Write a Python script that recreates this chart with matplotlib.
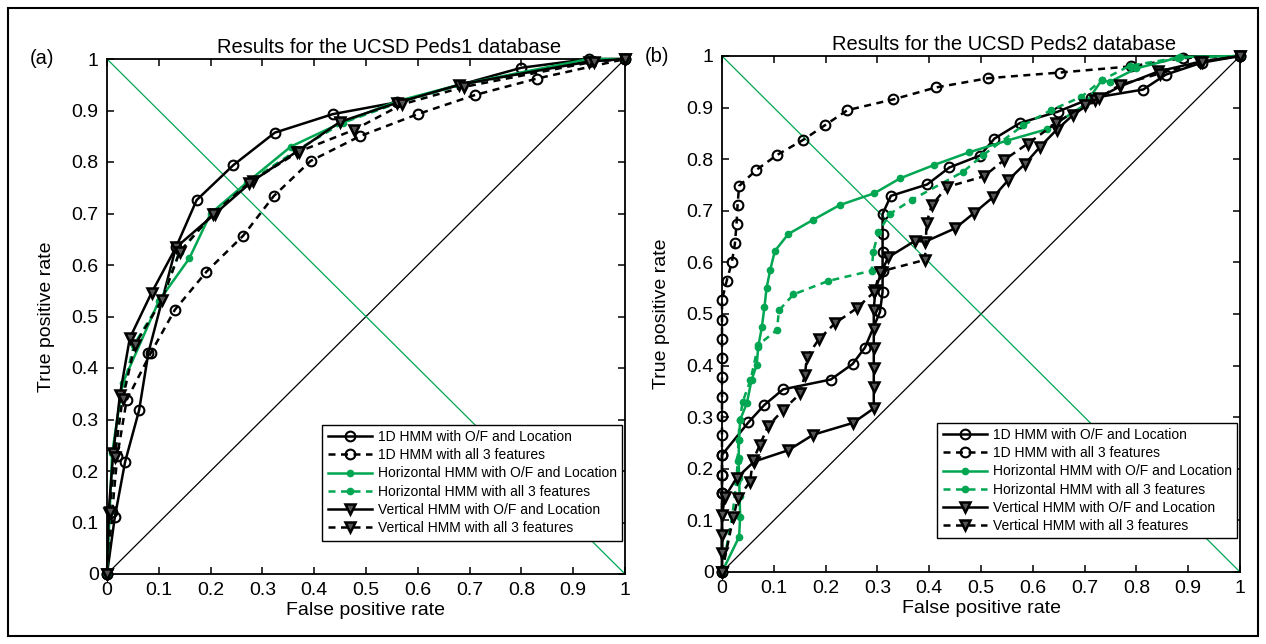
import matplotlib
matplotlib.use("Agg")
import matplotlib.pyplot as plt
from matplotlib.patches import Rectangle

plt.rcParams['font.family'] = ['Liberation Sans', 'DejaVu Sans']

# ---------------- data: panel (a) Peds1 ----------------
a_1d_of_x = [0, 0.015, 0.035, 0.062, 0.080, 0.133, 0.173, 0.244, 0.324, 0.436, 0.560, 0.800, 0.930, 1.0]
a_1d_of_y = [0, 0.110, 0.218, 0.318, 0.430, 0.634, 0.726, 0.794, 0.857, 0.893, 0.916, 0.983, 1.000, 1.0]

a_1d_all_x = [0, 0.010, 0.020, 0.038, 0.085, 0.131, 0.192, 0.263, 0.322, 0.393, 0.488, 0.600, 0.710, 0.830, 1.0]
a_1d_all_y = [0, 0.120, 0.230, 0.338, 0.430, 0.513, 0.587, 0.657, 0.734, 0.802, 0.850, 0.893, 0.930, 0.962, 1.0]

a_h_of_x = [0, 0.010, 0.030, 0.100, 0.159, 0.200, 0.270, 0.355, 0.450, 0.560, 0.680, 0.930, 1.0]
a_h_of_y = [0, 0.235, 0.370, 0.530, 0.613, 0.700, 0.760, 0.830, 0.875, 0.918, 0.950, 1.000, 1.0]

a_h_all_x = [0, 0.005, 0.015, 0.028, 0.052, 0.105, 0.140, 0.205, 0.275, 0.365, 0.455, 0.565, 0.685, 0.935, 1.0]
a_h_all_y = [0, 0.120, 0.232, 0.345, 0.445, 0.532, 0.625, 0.700, 0.762, 0.822, 0.876, 0.916, 0.950, 0.996, 1.0]

a_v_of_x = [0, 0.003, 0.012, 0.025, 0.044, 0.086, 0.133, 0.208, 0.281, 0.366, 0.450, 0.560, 0.680, 0.930, 1.0]
a_v_of_y = [0, 0.118, 0.234, 0.348, 0.458, 0.546, 0.634, 0.699, 0.763, 0.820, 0.878, 0.915, 0.950, 0.995, 1.0]

a_v_all_x = [0, 0.005, 0.015, 0.030, 0.054, 0.106, 0.140, 0.205, 0.275, 0.370, 0.476, 0.570, 0.690, 0.940, 1.0]
a_v_all_y = [0, 0.120, 0.228, 0.340, 0.445, 0.532, 0.625, 0.700, 0.760, 0.820, 0.862, 0.912, 0.946, 0.995, 1.0]

# ---------------- data: panel (b) Peds2 ----------------
b_1d_of_x = [0, 0, 0, 0, 0.051, 0.082, 0.118, 0.210, 0.252, 0.276, 0.305, 0.310, 0.310, 0.310, 0.310,
             0.310, 0.326, 0.396, 0.439, 0.498, 0.526, 0.575, 0.648, 0.712, 0.813, 0.857, 0.926, 1.0]
b_1d_of_y = [0, 0.153, 0.188, 0.227, 0.290, 0.324, 0.354, 0.373, 0.403, 0.435, 0.504, 0.543, 0.583, 0.620, 0.656,
             0.694, 0.729, 0.751, 0.784, 0.807, 0.840, 0.870, 0.892, 0.918, 0.935, 0.964, 0.987, 1.0]

b_1d_all_x = [0, 0, 0, 0, 0, 0, 0, 0, 0, 0, 0, 0, 0.009, 0.019, 0.025, 0.028, 0.030, 0.033,
              0.066, 0.106, 0.156, 0.199, 0.242, 0.331, 0.413, 0.514, 0.653, 0.790, 0.890, 1.0]
b_1d_all_y = [0, 0.153, 0.188, 0.227, 0.266, 0.303, 0.340, 0.377, 0.415, 0.452, 0.488, 0.527, 0.564, 0.600,
              0.637, 0.674, 0.711, 0.748, 0.779, 0.808, 0.837, 0.866, 0.895, 0.916, 0.939, 0.957, 0.968, 0.980, 0.996, 1.0]

b_h_of_x = [0, 0.033, 0.035, 0.034, 0.033, 0.032, 0.033, 0.035, 0.048, 0.057, 0.067, 0.070, 0.077, 0.082, 0.086,
            0.093, 0.102, 0.128, 0.175, 0.227, 0.294, 0.344, 0.410, 0.476, 0.550, 0.627, 0.700, 0.733, 0.749,
            0.800, 0.885, 1.0]
b_h_of_y = [0, 0.068, 0.107, 0.147, 0.183, 0.220, 0.256, 0.295, 0.327, 0.372, 0.401, 0.437, 0.475, 0.514, 0.550,
            0.585, 0.622, 0.655, 0.682, 0.711, 0.734, 0.763, 0.789, 0.813, 0.836, 0.858, 0.905, 0.953, 0.950,
            0.976, 0.998, 1.0]

b_h_all_x = [0, 0.020, 0.028, 0.030, 0.032, 0.034, 0.040, 0.055, 0.070, 0.106, 0.110, 0.138, 0.205, 0.289,
             0.292, 0.302, 0.324, 0.366, 0.466, 0.504, 0.582, 0.635, 0.694, 0.733, 0.787, 0.881, 1.0]
b_h_all_y = [0, 0.110, 0.175, 0.215, 0.256, 0.295, 0.330, 0.372, 0.440, 0.469, 0.507, 0.538, 0.564, 0.584,
             0.621, 0.658, 0.694, 0.721, 0.776, 0.808, 0.866, 0.895, 0.921, 0.953, 0.981, 0.997, 1.0]

b_v_of_x = [0, 0, 0, 0, 0.006, 0.028, 0.062, 0.128, 0.176, 0.253, 0.293, 0.293, 0.293, 0.293, 0.293, 0.293,
            0.296, 0.308, 0.321, 0.373, 0.392, 0.450, 0.487, 0.524, 0.553, 0.585, 0.614, 0.646, 0.678, 0.720,
            0.768, 0.842, 0.923, 1.0]
b_v_of_y = [0, 0.036, 0.072, 0.111, 0.146, 0.182, 0.214, 0.236, 0.266, 0.289, 0.317, 0.358, 0.395, 0.434,
            0.470, 0.508, 0.547, 0.582, 0.610, 0.642, 0.640, 0.666, 0.696, 0.727, 0.760, 0.791, 0.824, 0.857,
            0.886, 0.915, 0.941, 0.970, 0.989, 1.0]

b_v_all_x = [0, 0.022, 0.031, 0.054, 0.060, 0.073, 0.089, 0.118, 0.151, 0.160, 0.164, 0.187, 0.218, 0.260,
             0.294, 0.305, 0.392, 0.395, 0.405, 0.434, 0.506, 0.544, 0.590, 0.645, 0.700, 0.727, 0.768, 0.845,
             0.926, 1.0]
b_v_all_y = [0, 0.107, 0.143, 0.175, 0.217, 0.246, 0.283, 0.314, 0.346, 0.382, 0.417, 0.451, 0.482, 0.511,
             0.543, 0.582, 0.605, 0.677, 0.711, 0.746, 0.767, 0.798, 0.830, 0.870, 0.905, 0.918, 0.944, 0.966,
             0.989, 1.0]

labels = ["1D HMM with O/F and Location", "1D HMM with all 3 features",
          "Horizontal HMM with O/F and Location", "Horizontal HMM with all 3 features",
          "Vertical HMM with O/F and Location", "Vertical HMM with all 3 features"]
ticks = [0, 0.1, 0.2, 0.3, 0.4, 0.5, 0.6, 0.7, 0.8, 0.9, 1]
tick_labels = ["0", "0.1", "0.2", "0.3", "0.4", "0.5", "0.6", "0.7", "0.8", "0.9", "1"]

GREEN = '#00a651'
DASH = (2.8, 2.2)

panels = [
    dict(title="Results for the UCSD Peds1 database", tag="(a)",
         pos=[107 / 1266, 1 - 574 / 644, 518 / 1266, 515 / 644],
         series=[(a_1d_of_x, a_1d_of_y), (a_1d_all_x, a_1d_all_y), (a_h_of_x, a_h_of_y),
                 (a_h_all_x, a_h_all_y), (a_v_of_x, a_v_of_y), (a_v_all_x, a_v_all_y)]),
    dict(title="Results for the UCSD Peds2 database", tag="(b)",
         pos=[722 / 1266, 1 - 572 / 644, 518 / 1266, 516 / 644],
         series=[(b_1d_of_x, b_1d_of_y), (b_1d_all_x, b_1d_all_y), (b_h_of_x, b_h_of_y),
                 (b_h_all_x, b_h_all_y), (b_v_of_x, b_v_of_y), (b_v_all_x, b_v_all_y)]),
]

styles = [
    dict(color='black', ls='-', marker='o', mfc='none', mec='black', ms=7, mew=1.5),
    dict(color='black', ls='--', marker='o', mfc='none', mec='black', ms=7, mew=1.5),
    dict(color=GREEN, ls='-', marker='o', mfc=GREEN, mec=GREEN, ms=4.5, mew=1),
    dict(color=GREEN, ls='--', marker='o', mfc=GREEN, mec=GREEN, ms=4.5, mew=1),
    dict(color='black', ls='-', marker='v', mfc='#555555', mec='black', ms=6.5, mew=1.8),
    dict(color='black', ls='--', marker='v', mfc='#555555', mec='black', ms=6.5, mew=1.8),
]

fig = plt.figure(figsize=(12.66, 6.44), dpi=100)
fig.patches.append(Rectangle((8 / 1266, 8 / 644), 1250 / 1266, 628 / 644, transform=fig.transFigure,
                             fill=False, edgecolor='black', linewidth=1.5))

for p in panels:
    ax = fig.add_axes(p['pos'])
    ax.plot([0, 1], [0, 1], color='black', lw=0.9, zorder=1)
    ax.plot([0, 1], [1, 0], color=GREEN, lw=0.9, zorder=1)
    handles = []
    for (xs, ys), st, lab in zip(p['series'], styles, labels):
        kw = dict(st)
        ls = kw.pop('ls')
        line, = ax.plot(xs, ys, linestyle=ls, lw=1.8, label=lab, clip_on=False, zorder=3, **kw)
        if ls == '--':
            line.set_dashes(DASH)
        handles.append(line)
    ax.set_xlim(0, 1)
    ax.set_ylim(0, 1)
    ax.set_xticks(ticks)
    ax.set_xticklabels(tick_labels)
    ax.set_yticks(ticks)
    ax.set_yticklabels(tick_labels)
    ax.tick_params(direction='in', length=5, width=1.1, labelsize=14, top=True, right=True, pad=6)
    for s in ax.spines.values():
        s.set_linewidth(1.3)
    ax.set_title(p['title'], fontsize=14.5, pad=4, x=0.545)
    ax.set_xlabel("False positive rate", fontsize=14, labelpad=2)
    ax.set_ylabel("True positive rate", fontsize=14, labelpad=12)
    ax.text(-0.125, 1.0, p['tag'], transform=ax.transAxes, fontsize=14.5, ha='center', va='center')
    leg = ax.legend(handles=handles, loc='lower right', bbox_to_anchor=(0.995, 0.065), fontsize=10,
                    frameon=True, fancybox=False, edgecolor='black', framealpha=1, handlelength=3.2,
                    labelspacing=0.3, borderaxespad=0.0, handletextpad=0.4, borderpad=0.4)
    leg.get_frame().set_linewidth(1.0)

fig.savefig("out.png", dpi=100)
